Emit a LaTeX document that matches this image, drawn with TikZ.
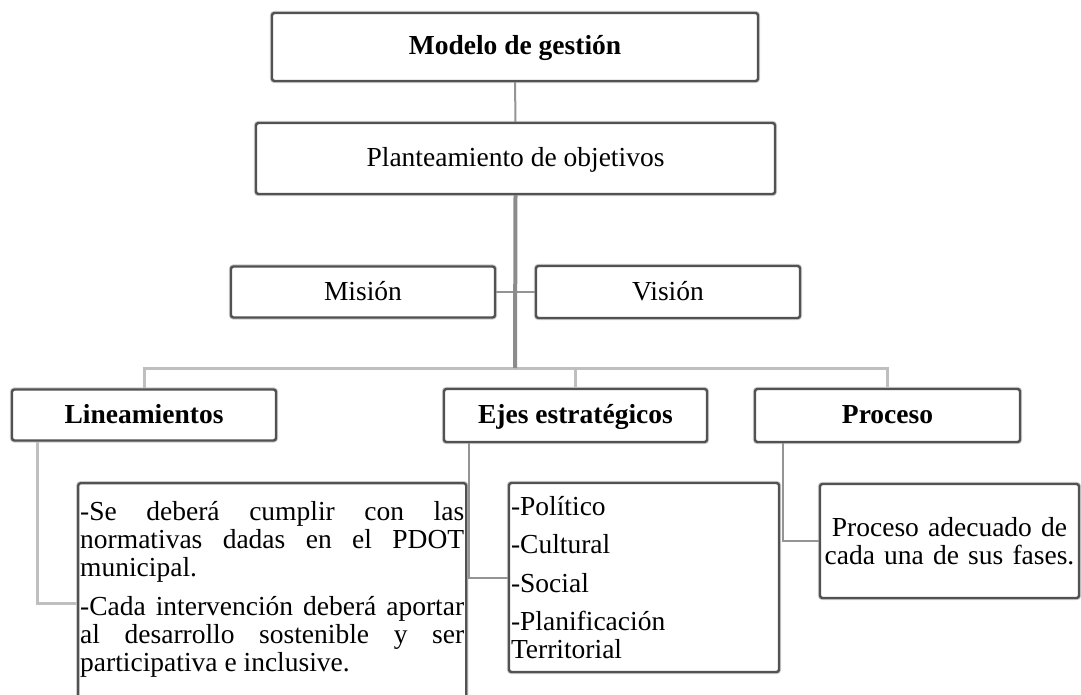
\documentclass[tikz,border=0pt]{standalone}
\usepackage{fontspec}
\setmainfont{Liberation Serif}
\setlength{\parindent}{0pt}
\tikzset{
	box/.style={draw=black!68, line width=2.4pt, rounded corners=2.5pt, fill=white,
		inner sep=2pt, font=\fontsize{27.5}{28}\selectfont,
		preaction={draw=black!20, line width=4.2pt}},
	oneline/.style={box, text height=20pt, text depth=4pt},
	headbox/.style={oneline, font=\fontsize{27.5}{28}\selectfont\bfseries},
	conn/.style={draw=black!42, line width=2pt},
	thickconn/.style={draw=black!45, line width=4pt},
	busconn/.style={draw=black!25, line width=3pt},
}
\begin{document}
\begin{tikzpicture}[x=1pt,y=-1pt]
	\useasboundingbox (0,0) rectangle (1081,695);
	\clip (0,0) rectangle (1081,695);
	\node[headbox, minimum width=486pt, minimum height=68pt] (modelo) at (515,47) {Modelo de gestión};
	\node[oneline, minimum width=519pt, minimum height=71pt] (plan) at (515.5,158.5) {Planteamiento de objetivos};
	\node[oneline, minimum width=264pt, minimum height=51pt] (mision) at (363,292) {Misión};
	\node[oneline, minimum width=264pt, minimum height=52pt] (vision) at (668,292) {Visión};
	\node[headbox, minimum width=264pt, minimum height=51pt] (lin) at (144,415) {Lineamientos};
	\node[headbox, minimum width=263pt, minimum height=53pt] (ejes) at (575.5,415.5) {Ejes estratégicos};
	\node[headbox, minimum width=265pt, minimum height=53pt] (proc) at (887.5,415.5) {Proceso};
	\node[box, anchor=north west, text width=384pt, align=justify, inner xsep=2pt, inner ysep=18pt,
		text depth=185pt] (lindet) at (77,482)
		{-Se deberá cumplir con las\linebreak normativas dadas en el PDOT\linebreak municipal.\par\vspace{11pt}%
		-Cada intervención deberá aportar\linebreak al desarrollo sostenible y ser\linebreak participativa e inclusive.};
	\node[box, minimum width=270pt, minimum height=189pt, text width=266pt, align=left] (ejesdet) at (644,577.5)
		{-Político\\[10.5pt]-Cultural\\[10.5pt]-Social\\[10.5pt]-Planificación\\Territorial};
	\node[box, minimum width=259pt, minimum height=114pt, text width=255pt, align=center] (procdet) at (949.5,541)
		{Proceso adecuado de\\cada una de sus fases.};
	\coordinate (bus) at (515,368);
	\draw[conn] (modelo) -- (plan);
	\draw[conn] (mision) -- (vision);
	\draw[busconn] (lin.north) |- (bus) -| (proc.north);
	\draw[busconn] (ejes.north) |- (bus);
	\draw[thickconn] (plan.south) -- (bus);
	\draw[busconn] ([xshift=27pt]lin.south west) |- (lindet.west);
	\draw[conn] ([xshift=26pt]ejes.south west) |- (ejesdet.west);
	\draw[conn] ([xshift=29pt]proc.south west) |- (procdet.west);
\end{tikzpicture}
\end{document}
